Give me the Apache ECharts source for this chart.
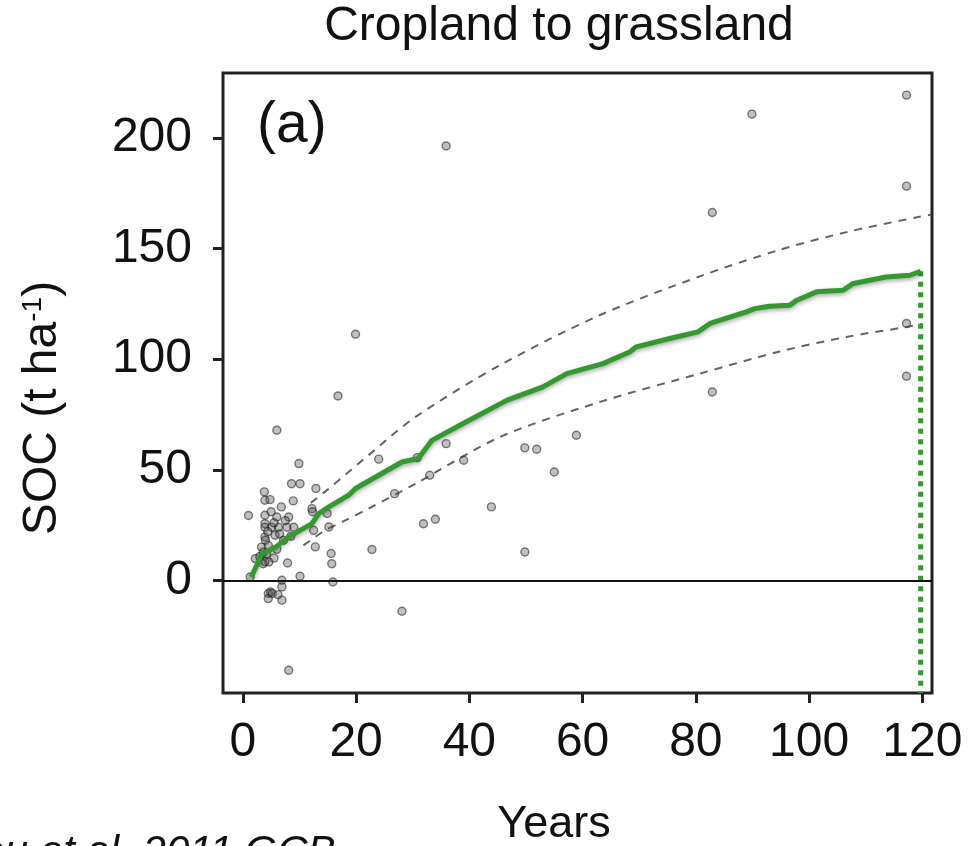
<!DOCTYPE html>
<html>
<head>
<meta charset="utf-8">
<script src="https://cdn.jsdelivr.net/npm/echarts@6/dist/echarts.min.js"></script>
<style>
  html, body { margin: 0; padding: 0; background: #fff; }
  #soc { width: 970px; height: 846px; }
</style>
</head>
<body>
<div id="soc"></div>
<script>
// observed SOC change (t ha-1) vs years since conversion
var obsYears = [1.0, 1.3, 2.2, 3.0, 3.3, 3.6, 3.6, 3.8, 3.9, 4.8, 3.9, 3.9, 3.9, 3.9, 4.0, 4.5, 4.6, 3.9,
  4.5, 4.5, 4.9, 5.1, 5.2, 5.7, 6.0, 6.0, 6.3, 6.2, 6.8, 6.9, 6.9, 6.9, 7.2, 7.8, 7.9, 8.1, 8.1,
  8.6, 8.9, 9.0, 9.9, 10.1, 10.1, 12.2, 12.3, 12.5, 12.8, 12.9, 14.9, 15.2, 15.6, 15.7, 15.9,
  4.4, 5.5, 6.5, 7.5, 5.0, 6.0, 4.2, 8.5, 5.5,
  16.8, 19.9, 22.8, 24.0, 26.8, 28.1, 30.8, 31.9, 33.0, 34.0, 35.9, 35.9, 39.0, 43.9, 49.8, 49.8,
  51.9, 55.0, 58.9, 82.9, 82.9, 89.9, 117.2, 117.2, 117.2, 117.2];
var obsSoc = [29.3, 1.5, 9.8, 10.7, 15.0, 12.7, 7.5, 40.0, 36.2, 36.5, 29.4, 25.6, 24.0, 19.6, 18.1, 15.8, 8.3, 8.4,
  -6.0, -8.3, -5.3, 24.0, -6.0, 20.4, 28.6, 67.9, 24.0, -6.5, 33.2, 0, -3.0, -9.0, 18.1, 24.0, 7.8, 28.6, -40.7,
  43.7, 35.9, 24.0, 52.8, 43.7, 1.8, 32.4, 31.0, 22.6, 15.1, 41.5, 30.2, 24.1, 12.1, 7.5, -0.8,
  22.0, 26.0, 21.0, 27.0, 31.0, 14.0, 12.0, 20.0, 10.0,
  83.4, 111.3, 13.9, 54.8, 39.2, -14.0, 55.5, 25.6, 47.5, 27.6, 196.5, 61.8, 54.3, 33.2, 59.9, 12.8,
  59.3, 49.0, 65.6, 166.4, 85.2, 210.9, 219.5, 178.3, 116.2, 92.3];

// carbon response function (mean)
var meanYears = [1.5, 3.4, 5.8, 8.1, 12.2, 13.4, 15.2, 18.7, 19.9, 24.0, 28.1, 31.0, 33.4, 38.9, 46.6, 53.0,
  57.2, 63.6, 68.3, 69.5, 75.4, 80.4, 82.5, 88.9, 90.4, 93.0, 96.6, 97.8, 101.3, 106.0, 107.8, 113.6, 117.8, 119.7];
var meanSoc = [1.5, 12.0, 15.0, 19.6, 25.6, 30.2, 33.2, 38.5, 41.5, 47.5, 53.5, 55.1, 63.3, 70.9, 81.4, 87.5,
  93.5, 98.0, 103.3, 105.6, 109.4, 112.4, 116.2, 121.4, 122.9, 124.0, 124.4, 126.7, 130.5, 131.2, 134.3, 137.2, 138.0, 139.8];

// confidence bounds
var upperYears = [12.0, 14.5, 22.2, 30.5, 45.4, 63.1, 80.7, 94.8, 106.6, 119.5, 121.7];
var upperSoc = [35.0, 40.0, 56.6, 73.9, 97.3, 120.0, 137.5, 149.5, 157.5, 164.5, 165.5];
var lowerYears = [10.7, 12.8, 14.5, 18.1, 22.2, 30.5, 45.4, 63.1, 80.7, 94.8, 106.6, 117.2, 120.0];
var lowerSoc = [15.8, 19.6, 22.6, 27.1, 32.4, 43.7, 64.8, 80.7, 93.5, 103.5, 110.1, 114.6, 116.0];

var endYear = 119.7;
var xTicks = [0, 20, 40, 60, 80, 100, 120];
var yTicks = [0, 50, 100, 150, 200];
var xMin = -3.5, xMax = 121.7, yMin = -51, yMax = 229.5;

function zip(a, b) {
  return a.map(function (v, i) { return [v, b[i]]; });
}

var chartInstance = echarts.init(document.getElementById("soc"));
var green = "#34992e";
var font = "Liberation Sans, Arial, sans-serif";

var option = {
  backgroundColor: "#fff",
  animation: false,
  grid: {
    left: 223, top: 73, right: 38, bottom: 153,
    show: true, borderColor: "#222", borderWidth: 3, backgroundColor: "transparent"
  },
  xAxis: {
    type: "value", min: xMin, max: xMax,
    axisLine: { show: false, onZero: false },
    splitLine: { show: false },
    axisTick: { show: true, inside: false, length: 10, lineStyle: { color: "#222", width: 3 }, customValues: xTicks },
    axisLabel: { color: "#111", fontSize: 48, fontFamily: font, margin: 26, customValues: xTicks }
  },
  yAxis: {
    type: "value", min: yMin, max: yMax,
    axisLine: { show: false, onZero: false },
    splitLine: { show: false },
    axisTick: { show: true, inside: false, length: 10, lineStyle: { color: "#222", width: 3 }, customValues: yTicks },
    axisLabel: { color: "#111", fontSize: 48, fontFamily: font, margin: 31, customValues: yTicks }
  },
  series: [
    {
      type: "scatter",
      data: zip(obsYears, obsSoc),
      symbol: "circle",
      symbolSize: 8,
      itemStyle: { color: "rgba(80,80,80,0.45)", borderColor: "rgba(20,20,20,0.65)", borderWidth: 1.4 },
      markLine: {
        silent: true, symbol: "none", label: { show: false },
        lineStyle: { color: "#111", width: 2, type: "solid" },
        data: [{ yAxis: 0 }]
      },
      z: 2
    },
    {
      type: "line",
      data: zip(upperYears, upperSoc),
      smooth: 0.3, showSymbol: false,
      lineStyle: { color: "rgba(60,60,60,0.8)", width: 2, type: [8, 7] },
      z: 3
    },
    {
      type: "line",
      data: zip(lowerYears, lowerSoc),
      smooth: 0.3, showSymbol: false,
      lineStyle: { color: "rgba(60,60,60,0.8)", width: 2, type: [8, 7] },
      z: 3
    },
    {
      type: "line",
      data: zip(meanYears, meanSoc),
      showSymbol: false,
      lineStyle: {
        color: green, width: 5,
        shadowColor: "rgba(0,0,0,0.35)", shadowBlur: 4, shadowOffsetY: 2
      },
      z: 5
    },
    {
      type: "line",
      data: [[endYear, meanSoc[meanSoc.length - 1]], [endYear, yMin]],
      showSymbol: false,
      lineStyle: { color: green, width: 5, type: [5, 5.5], cap: "butt" },
      z: 4
    }
  ],
  graphic: [
    {
      type: "text", x: 559, y: 27,
      style: { text: "Cropland to grassland", font: "48px " + font, fill: "#111", align: "center", verticalAlign: "middle" }
    },
    {
      type: "text", x: 257, y: 126,
      style: { text: "(a)", font: "57px " + font, fill: "#111", align: "left", verticalAlign: "middle" }
    },
    {
      type: "text", x: 43, y: 408, rotation: Math.PI / 2,
      style: {
        text: "SOC (t ha{sup|-1})", font: "48px " + font, fill: "#111",
        align: "center", verticalAlign: "middle",
        rich: { sup: { fontSize: 28, fontFamily: font, fill: "#111", verticalAlign: "top" } }
      }
    },
    {
      type: "text", x: 554, y: 825,
      style: { text: "Years", font: "45px " + font, fill: "#111", align: "center", verticalAlign: "middle" }
    },
    {
      type: "text", x: -126, y: 853,
      style: { text: "Poeplau et al. 2011 GCB", font: "italic 42px " + font, fill: "#111", align: "left", verticalAlign: "middle" }
    }
  ]
};
chartInstance.setOption(option);
</script>
</body>
</html>
